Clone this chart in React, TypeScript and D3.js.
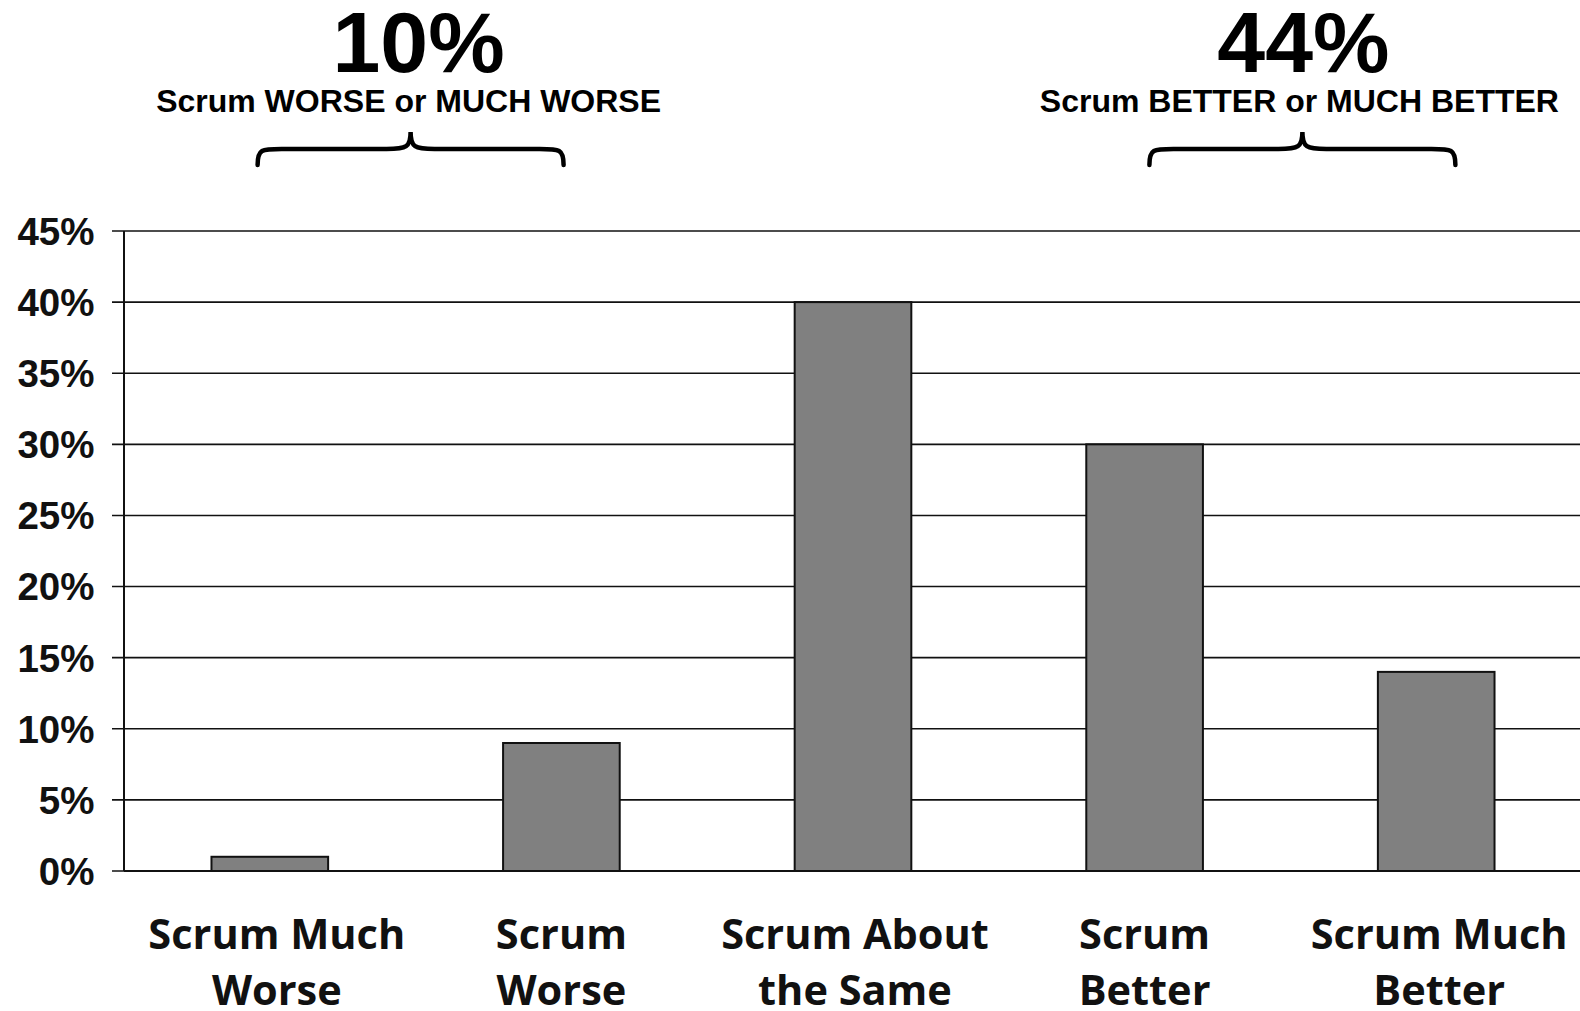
import React from "react";
import * as d3 from "d3";

const categories = ["Scrum Much Worse", "Scrum Worse", "Scrum About the Same", "Scrum Better", "Scrum Much Better"];
const categoryLines = [["Scrum Much", "Worse"], ["Scrum", "Worse"], ["Scrum About", "the Same"], ["Scrum", "Better"], ["Scrum Much", "Better"]];
const values = [1, 9, 40, 30, 14];
const yTicks = [0, 5, 10, 15, 20, 25, 30, 35, 40, 45];
const groupTotals = ["10%", "44%"];
const groupLabels = ["Scrum WORSE or MUCH WORSE", "Scrum BETTER or MUCH BETTER"];
const groupRanges = [["Scrum Much Worse", "Scrum Worse"], ["Scrum Better", "Scrum Much Better"]];

const W = 1580;
const H = 1011;
const left = 124;
const top = 231;
const bottom = 871;
const braceShift = [-5, 12];
const labelShift = [7, 0, 2, 0, 3];

export default function App() {
  const x = d3.scaleBand<string>().domain(categories).range([left, 1582]).paddingInner(0.6).paddingOuter(0.3);
  const y = d3.scaleLinear().domain([0, 45]).range([bottom, top]);
  const bw = x.bandwidth();

  const brace = (x0: number, x1: number) => {
    const xm = (x0 + x1) / 2;
    const yb = 165, yh = 149, yp = 132;
    const r = 16;
    return `M${x0},${yb} C${x0},${yh} ${x0 + 4},${yh} ${x0 + r + 8},${yh} L${xm - r - 8},${yh} C${xm - 4},${yh} ${xm},${yh - 2} ${xm},${yp} C${xm},${yh - 2} ${xm + 4},${yh} ${xm + r + 8},${yh} L${x1 - r - 8},${yh} C${x1 - 4},${yh} ${x1},${yh} ${x1},${yb}`;
  };

  return (
    <svg width={W} height={H} style={{ position: "absolute", left: 0, top: 0, background: "#fff" }}>
      {/* gridlines */}
      {yTicks.map((t) => (
        <line key={"g" + t} x1={112} x2={W} y1={y(t)} y2={y(t)} stroke="#111" strokeWidth={1.6} />
      ))}
      {/* y axis */}
      <line x1={left} x2={left} y1={top} y2={bottom} stroke="#111" strokeWidth={2} />
      {yTicks.map((t) => (
        <text key={"t" + t} x={94.5} y={y(t)} dy="0.36em" textAnchor="end"
          fontFamily="'Liberation Sans', Arial, sans-serif" fontWeight="bold" fontSize={38.5} fill="#111">
          {t + "%"}
        </text>
      ))}
      {/* bars */}
      {categories.map((c, i) => (
        <rect key={c} x={x(c)} y={y(values[i])} width={bw} height={y(0) - y(values[i])}
          fill="#808080" stroke="#111" strokeWidth={2} />
      ))}
      <line x1={left} x2={W} y1={y(0)} y2={y(0)} stroke="#111" strokeWidth={2} />
      {/* x labels */}
      {categories.map((c, i) => {
        const cx = (x(c) as number) + bw / 2 + labelShift[i];
        return (
          <text key={"xl" + c} x={cx} y={949} textAnchor="middle"
            fontFamily="'Open Sans', sans-serif" fontWeight="bold" fontSize={41.5} fill="#111">
            {categoryLines[i].map((l, j) => (
              <tspan key={j} x={cx} y={949 + j * 56}>{l}</tspan>
            ))}
          </text>
        );
      })}
      {/* group annotations */}
      {groupRanges.map((g, i) => {
        const c0 = (x(g[0]) as number) + bw / 2;
        const c1 = (x(g[1]) as number) + bw / 2;
        const xm = (c0 + c1) / 2 + braceShift[i];
        const half = 153;
        return (
          <g key={"grp" + i}>
            <text x={xm + (i === 0 ? 8 : 1)} y={72} textAnchor="middle" fontFamily="'Liberation Sans', Arial, sans-serif"
              fontWeight="bold" fontSize={86} fill="#000">{groupTotals[i]}</text>
            <text x={xm - (i === 0 ? 2 : 3)} y={112} textAnchor="middle" fontFamily="'Liberation Sans', Arial, sans-serif"
              fontWeight="bold" fontSize={32} fill="#000">{groupLabels[i]}</text>
            <path d={brace(xm - half, xm + half)} fill="none" stroke="#000" strokeWidth={4.5} strokeLinecap="round" />
          </g>
        );
      })}
    </svg>
  );
}
